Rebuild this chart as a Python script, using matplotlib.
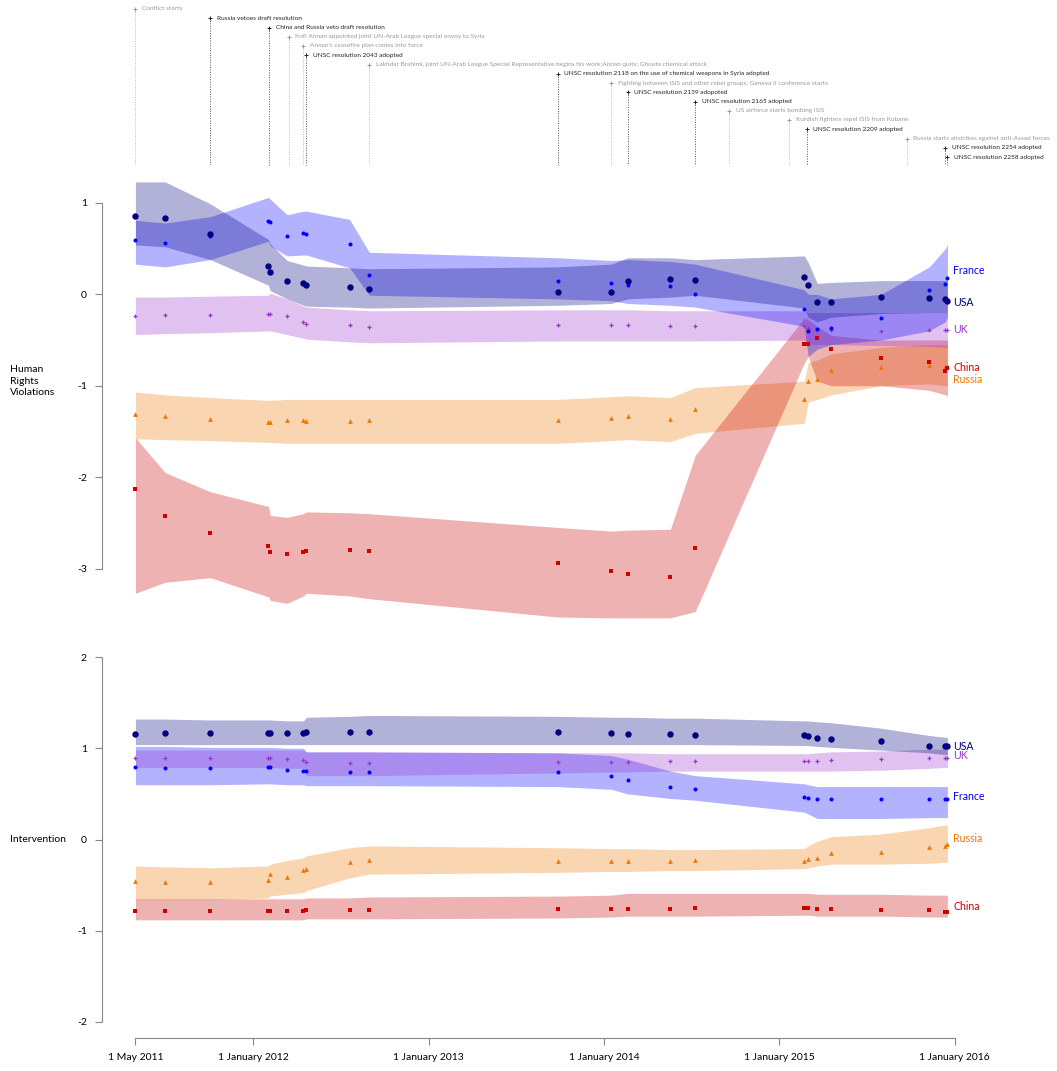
import matplotlib
matplotlib.use("Agg")
import matplotlib.pyplot as plt
import matplotlib.dates as mdates
import pandas as pd
import numpy as np

plt.rcParams['font.family'] = ['Lato', 'DejaVu Sans']

# ---------------- data ----------------
dates = ["2011-05-01", "2011-07-02", "2011-10-04", "2012-02-02", "2012-02-06", "2012-03-12",
         "2012-04-15", "2012-04-21", "2012-07-20", "2012-08-30", "2013-09-26", "2014-01-16",
         "2014-02-19", "2014-05-19", "2014-07-10", "2015-02-22", "2015-03-02", "2015-03-21",
         "2015-04-19", "2015-08-01", "2015-11-09", "2015-12-13", "2015-12-17"]

# Human rights violations (top panel): point estimates
hr_usa    = [0.86, 0.83, 0.66, 0.31, 0.24, 0.15, 0.12, 0.10, 0.08, 0.06, 0.03, 0.03, 0.15, 0.17, 0.16, 0.19, 0.10, -0.08, -0.08, -0.03, -0.04, -0.05, -0.07]
hr_france = [0.59, 0.56, 0.64, 0.80, 0.79, 0.64, 0.67, 0.66, 0.55, 0.21, 0.15, 0.12, 0.10, 0.09, 0.00, -0.16, -0.40, -0.38, -0.37, -0.26, 0.05, 0.11, 0.18]
hr_uk     = [-0.24, -0.23, -0.23, -0.22, -0.21, -0.24, -0.30, -0.32, -0.34, -0.36, -0.34, -0.34, -0.34, -0.35, -0.35, -0.35, -0.37, -0.39, -0.39, -0.40, -0.39, -0.39, -0.39]
hr_china  = [-2.13, -2.42, -2.61, -2.75, -2.82, -2.84, -2.82, -2.81, -2.80, -2.81, -2.94, -3.03, -3.06, -3.09, -2.77, -0.54, -0.54, -0.48, -0.60, -0.70, -0.74, -0.84, -0.81]
hr_russia = [-1.31, -1.33, -1.36, -1.40, -1.40, -1.37, -1.38, -1.39, -1.39, -1.38, -1.38, -1.35, -1.33, -1.36, -1.25, -1.15, -0.95, -0.93, -0.83, -0.80, -0.77, -0.79, -0.78]

# top panel uncertainty bands
hr_usa_lo    = [0.54, 0.52, 0.38, 0.10, 0.04, -0.05, -0.12, -0.13, -0.14, -0.15, -0.12, -0.10, -0.05, -0.03, -0.01, -0.15, -0.25, -0.30, -0.25, -0.21, -0.20, -0.20, -0.20]
hr_usa_hi    = [1.23, 1.23, 0.99, 0.60, 0.55, 0.37, 0.32, 0.31, 0.29, 0.28, 0.30, 0.33, 0.40, 0.40, 0.38, 0.42, 0.35, 0.12, 0.13, 0.15, 0.15, 0.15, 0.15]
hr_france_lo = [0.33, 0.30, 0.38, 0.58, 0.53, 0.42, 0.43, 0.43, 0.29, -0.01, -0.05, -0.07, -0.10, -0.12, -0.14, -0.35, -0.68, -0.60, -0.55, -0.50, -0.40, -0.30, -0.25]
hr_france_hi = [0.81, 0.78, 0.85, 1.06, 1.04, 0.87, 0.91, 0.91, 0.82, 0.46, 0.40, 0.37, 0.38, 0.36, 0.33, 0.05, 0.00, 0.00, -0.05, 0.00, 0.30, 0.50, 0.55]
hr_uk_lo     = [-0.44, -0.43, -0.42, -0.40, -0.40, -0.44, -0.48, -0.49, -0.52, -0.53, -0.51, -0.51, -0.51, -0.51, -0.51, -0.50, -0.55, -0.55, -0.55, -0.56, -0.57, -0.58, -0.58]
hr_uk_hi     = [-0.03, -0.03, -0.02, -0.01, 0.01, -0.05, -0.13, -0.14, -0.17, -0.18, -0.17, -0.17, -0.17, -0.18, -0.18, -0.18, -0.20, -0.20, -0.20, -0.20, -0.20, -0.20, -0.20]
hr_china_lo  = [-3.27, -3.15, -3.10, -3.31, -3.35, -3.38, -3.30, -3.27, -3.30, -3.33, -3.53, -3.54, -3.54, -3.54, -3.47, -0.75, -0.68, -0.95, -1.00, -1.00, -1.05, -1.10, -1.12]
hr_china_hi  = [-1.57, -1.95, -2.16, -2.32, -2.42, -2.44, -2.40, -2.38, -2.39, -2.40, -2.55, -2.59, -2.58, -2.57, -1.76, -0.26, -0.28, -0.35, -0.45, -0.50, -0.50, -0.50, -0.50]
hr_russia_lo = [-1.58, -1.59, -1.60, -1.62, -1.62, -1.63, -1.63, -1.63, -1.63, -1.63, -1.63, -1.60, -1.59, -1.61, -1.52, -1.41, -1.18, -1.15, -1.10, -1.00, -0.98, -1.00, -1.00]
hr_russia_hi = [-1.07, -1.10, -1.13, -1.16, -1.16, -1.15, -1.15, -1.15, -1.15, -1.15, -1.15, -1.12, -1.11, -1.13, -1.02, -0.95, -0.75, -0.72, -0.65, -0.58, -0.55, -0.55, -0.55]

# Intervention (bottom panel): point estimates
iv_usa    = [1.16, 1.17, 1.17, 1.17, 1.17, 1.17, 1.17, 1.18, 1.18, 1.18, 1.18, 1.17, 1.16, 1.16, 1.15, 1.14, 1.13, 1.11, 1.10, 1.08, 1.03, 1.02, 1.02]
iv_uk     = [0.89, 0.89, 0.89, 0.89, 0.89, 0.88, 0.87, 0.85, 0.84, 0.84, 0.85, 0.85, 0.85, 0.86, 0.86, 0.86, 0.86, 0.86, 0.87, 0.88, 0.89, 0.89, 0.89]
iv_france = [0.79, 0.78, 0.78, 0.80, 0.80, 0.76, 0.75, 0.75, 0.74, 0.74, 0.74, 0.70, 0.65, 0.58, 0.55, 0.47, 0.46, 0.44, 0.44, 0.44, 0.44, 0.44, 0.44]
iv_russia = [-0.45, -0.47, -0.47, -0.44, -0.38, -0.41, -0.33, -0.32, -0.25, -0.23, -0.24, -0.24, -0.24, -0.24, -0.23, -0.24, -0.21, -0.20, -0.15, -0.14, -0.08, -0.07, -0.05]
iv_china  = [-0.78, -0.78, -0.78, -0.78, -0.78, -0.78, -0.78, -0.77, -0.77, -0.77, -0.76, -0.76, -0.76, -0.76, -0.75, -0.75, -0.75, -0.76, -0.76, -0.77, -0.77, -0.79, -0.79]

iv_usa_lo    = [1.04, 1.04, 1.04, 1.04, 1.04, 1.04, 1.04, 1.04, 1.04, 1.04, 1.04, 1.04, 1.04, 1.04, 1.04, 1.03, 1.03, 1.02, 1.01, 0.98, 0.95, 0.93, 0.93]
iv_usa_hi    = [1.32, 1.32, 1.31, 1.31, 1.31, 1.30, 1.30, 1.34, 1.35, 1.36, 1.35, 1.34, 1.34, 1.33, 1.33, 1.30, 1.30, 1.29, 1.28, 1.22, 1.14, 1.12, 1.12]
iv_france_lo = [0.60, 0.60, 0.60, 0.61, 0.61, 0.60, 0.60, 0.59, 0.59, 0.59, 0.58, 0.55, 0.50, 0.45, 0.43, 0.30, 0.28, 0.23, 0.23, 0.23, 0.24, 0.24, 0.24]
iv_france_hi = [1.02, 1.02, 1.01, 1.01, 1.01, 1.00, 1.00, 0.96, 0.96, 0.96, 0.95, 0.92, 0.88, 0.75, 0.70, 0.61, 0.60, 0.58, 0.58, 0.58, 0.58, 0.58, 0.58]
iv_uk_lo     = [0.79, 0.79, 0.79, 0.79, 0.79, 0.78, 0.78, 0.70, 0.70, 0.70, 0.73, 0.74, 0.74, 0.75, 0.75, 0.75, 0.75, 0.75, 0.75, 0.76, 0.78, 0.79, 0.79]
iv_uk_hi     = [0.98, 0.98, 0.98, 0.98, 0.98, 0.98, 0.98, 0.96, 0.96, 0.96, 0.95, 0.95, 0.95, 0.94, 0.94, 0.94, 0.94, 0.95, 0.96, 0.97, 0.99, 0.99, 0.99]
iv_russia_lo = [-0.66, -0.66, -0.66, -0.64, -0.62, -0.60, -0.58, -0.56, -0.42, -0.38, -0.36, -0.35, -0.35, -0.34, -0.34, -0.32, -0.31, -0.29, -0.27, -0.27, -0.26, -0.25, -0.25]
iv_russia_hi = [-0.29, -0.30, -0.31, -0.29, -0.27, -0.23, -0.20, -0.18, -0.09, -0.07, -0.09, -0.10, -0.10, -0.11, -0.11, -0.10, -0.07, -0.02, 0.03, 0.06, 0.13, 0.16, 0.16]
iv_china_lo  = [-0.88, -0.88, -0.88, -0.88, -0.88, -0.88, -0.88, -0.87, -0.87, -0.87, -0.86, -0.85, -0.84, -0.84, -0.84, -0.83, -0.83, -0.84, -0.84, -0.84, -0.85, -0.85, -0.85]
iv_china_hi  = [-0.65, -0.65, -0.65, -0.65, -0.65, -0.65, -0.65, -0.64, -0.64, -0.63, -0.62, -0.61, -0.59, -0.59, -0.59, -0.59, -0.59, -0.60, -0.60, -0.60, -0.61, -0.61, -0.61]

# events timeline
event_dates = ["2011-05-01", "2011-10-04", "2012-02-04", "2012-03-15", "2012-04-15", "2012-04-21",
               "2012-08-30", "2013-09-26", "2014-01-16", "2014-02-19", "2014-07-10", "2014-09-19",
               "2015-01-22", "2015-02-28", "2015-09-24", "2015-12-13", "2015-12-17"]
event_labels = ["Conflict starts",
                "Russia vetoes draft resolution",
                "China and Russia veto draft resolution",
                "Kofi Annan appointed joint UN-Arab League special envoy to Syria",
                "Annan's ceasefire plan comes into force",
                "UNSC resolution 2043 adopted",
                "Lakhdar Brahimi, joint UN-Arab League Special Representative begins his work;Annan quits; Ghouta chemical attack",
                "UNSC resolution 2118 on the use of chemical weapons in Syria adopted",
                "Fighting between ISIS and other rebel groups; Geneva II conference starts",
                "UNSC resolution 2139 adopoted",
                "UNSC resolution 2165 adopted",
                "US airforce starts bombing ISIS",
                "Kurdish fighters repel ISIS from Kobane",
                "UNSC resolution 2209 adopted",
                "Russia starts airstrikes against anti-Assad forces",
                "UNSC resolution 2254 adopted",
                "UNSC resolution 2258 adopted"]
event_un = [False, True, True, False, False, True, False, True, False, True, True, False, False, True, False, True, True]

x_ticks = ["2011-05-01", "2012-01-01", "2013-01-01", "2014-01-01", "2015-01-01", "2016-01-01"]
x_ticklabels = ["1 May 2011", "1 January 2012", "1 January 2013", "1 January 2014", "1 January 2015", "1 January 2016"]

# ---------------- styling ----------------
C = {"USA": "#000080", "France": "#0000FF", "UK": "#9932CC", "China": "#CD0000", "Russia": "#EE7600"}
MK = {"USA": dict(marker='o', ms=4.6, mew=0),
      "France": dict(marker='o', ms=2.9, mew=0),
      "UK": dict(marker='+', ms=3.0, mew=0.9),
      "China": dict(marker='s', ms=2.8, mew=0),
      "Russia": dict(marker='^', ms=3.4, mew=0)}

W, H = 1057, 1071
fig = plt.figure(figsize=(W / 100, H / 100), dpi=100)

x = pd.to_datetime(dates)
x0 = pd.Timestamp("2011-05-01") - pd.Timedelta(days=69.6)
x1 = pd.Timestamp("2016-01-01") + pd.Timedelta(days=11.2)
L, R = 102 / W, 960 / W


def fy(px):
    return 1 - px / H


def panel(ax, series, labels_y, ticks):
    for name, (val, lo, hi) in series.items():
        ax.fill_between(x, lo, hi, color=C[name], alpha=0.3, linewidth=0, zorder=1)
    for name, (val, lo, hi) in series.items():
        ax.plot(x, val, linestyle='none', color=C[name], mec=C[name], zorder=3, **MK[name])
    for name, yy in labels_y.items():
        ax.text(pd.Timestamp("2015-12-29"), yy, name, color=C[name], fontsize=7.6, va='center',
                ha='left', clip_on=False)
    ax.set_xlim(x0, x1)
    for s in ['top', 'right']:
        ax.spines[s].set_visible(False)
    ax.spines['left'].set_bounds(ticks[0], ticks[-1])
    ax.spines['left'].set_color('#888888')
    ax.spines['left'].set_linewidth(0.8)
    ax.set_yticks(ticks)
    ax.set_yticklabels([str(t) for t in ticks])
    ax.tick_params(axis='y', length=5, width=0.8, color='#888888', labelsize=7.5, pad=6)
    ax.set_facecolor('none')


# top panel
ax1 = fig.add_axes([L, fy(623.4), R - L, fy(175.5) - fy(623.4)])
ax1.set_ylim(-3.6, 1.3)
panel(ax1, {"Russia": (hr_russia, hr_russia_lo, hr_russia_hi),
            "China": (hr_china, hr_china_lo, hr_china_hi),
            "UK": (hr_uk, hr_uk_lo, hr_uk_hi),
            "France": (hr_france, hr_france_lo, hr_france_hi),
            "USA": (hr_usa, hr_usa_lo, hr_usa_hi)},
      {"France": 0.26, "USA": -0.09, "UK": -0.38, "China": -0.80, "Russia": -0.93},
      [-3, -2, -1, 0, 1])
ax1.spines['bottom'].set_visible(False)
ax1.set_xticks([])
fig.text(10 / W, fy(381), "Human\nRights\nViolations", fontsize=7.5, va='center', ha='left',
         linespacing=1.3)

# bottom panel
ax2 = fig.add_axes([L, fy(1037.5), R - L, fy(647.9) - fy(1037.5)])
ax2.set_ylim(-2.17, 2.1)
panel(ax2, {"China": (iv_china, iv_china_lo, iv_china_hi),
            "Russia": (iv_russia, iv_russia_lo, iv_russia_hi),
            "France": (iv_france, iv_france_lo, iv_france_hi),
            "UK": (iv_uk, iv_uk_lo, iv_uk_hi),
            "USA": (iv_usa, iv_usa_lo, iv_usa_hi)},
      {"USA": 1.02, "UK": 0.92, "France": 0.47, "Russia": 0.01, "China": -0.73},
      [-2, -1, 0, 1, 2])
xt = pd.to_datetime(x_ticks)
ax2.set_xticks(xt)
ax2.set_xticklabels(x_ticklabels)
ax2.spines['bottom'].set_bounds(mdates.date2num(xt[0]), mdates.date2num(xt[-1]))
ax2.spines['bottom'].set_color('#888888')
ax2.spines['bottom'].set_linewidth(0.8)
ax2.tick_params(axis='x', length=5, width=0.8, color='#888888', labelsize=7.5, pad=6)
fig.text(10 / W, fy(839), "Intervention", fontsize=7.5, va='center', ha='left')

# events axes
ax0 = fig.add_axes([L, fy(175), R - L, fy(0) - fy(175)])
ax0.set_xlim(x0, x1)
ax0.set_ylim(175, 0)
ax0.axis('off')
ex = pd.to_datetime(event_dates)
for i, (d, lab, un) in enumerate(zip(ex, event_labels, event_un)):
    yy = 9 + i * 9.25
    col = '#222222' if un else '#999999'
    lcol = '#555555' if un else '#bbbbbb'
    ax0.plot([d, d], [yy, 165], color=lcol, lw=0.7, linestyle=(0, (1, 1.5)))
    ax0.plot([d], [yy], marker='+', ms=2.5, mew=0.7, color=col)
    ax0.text(d + pd.Timedelta(days=13), yy, lab, fontsize=4.65, color=col, va='center', ha='left')

fig.savefig("out.png", dpi=100)
